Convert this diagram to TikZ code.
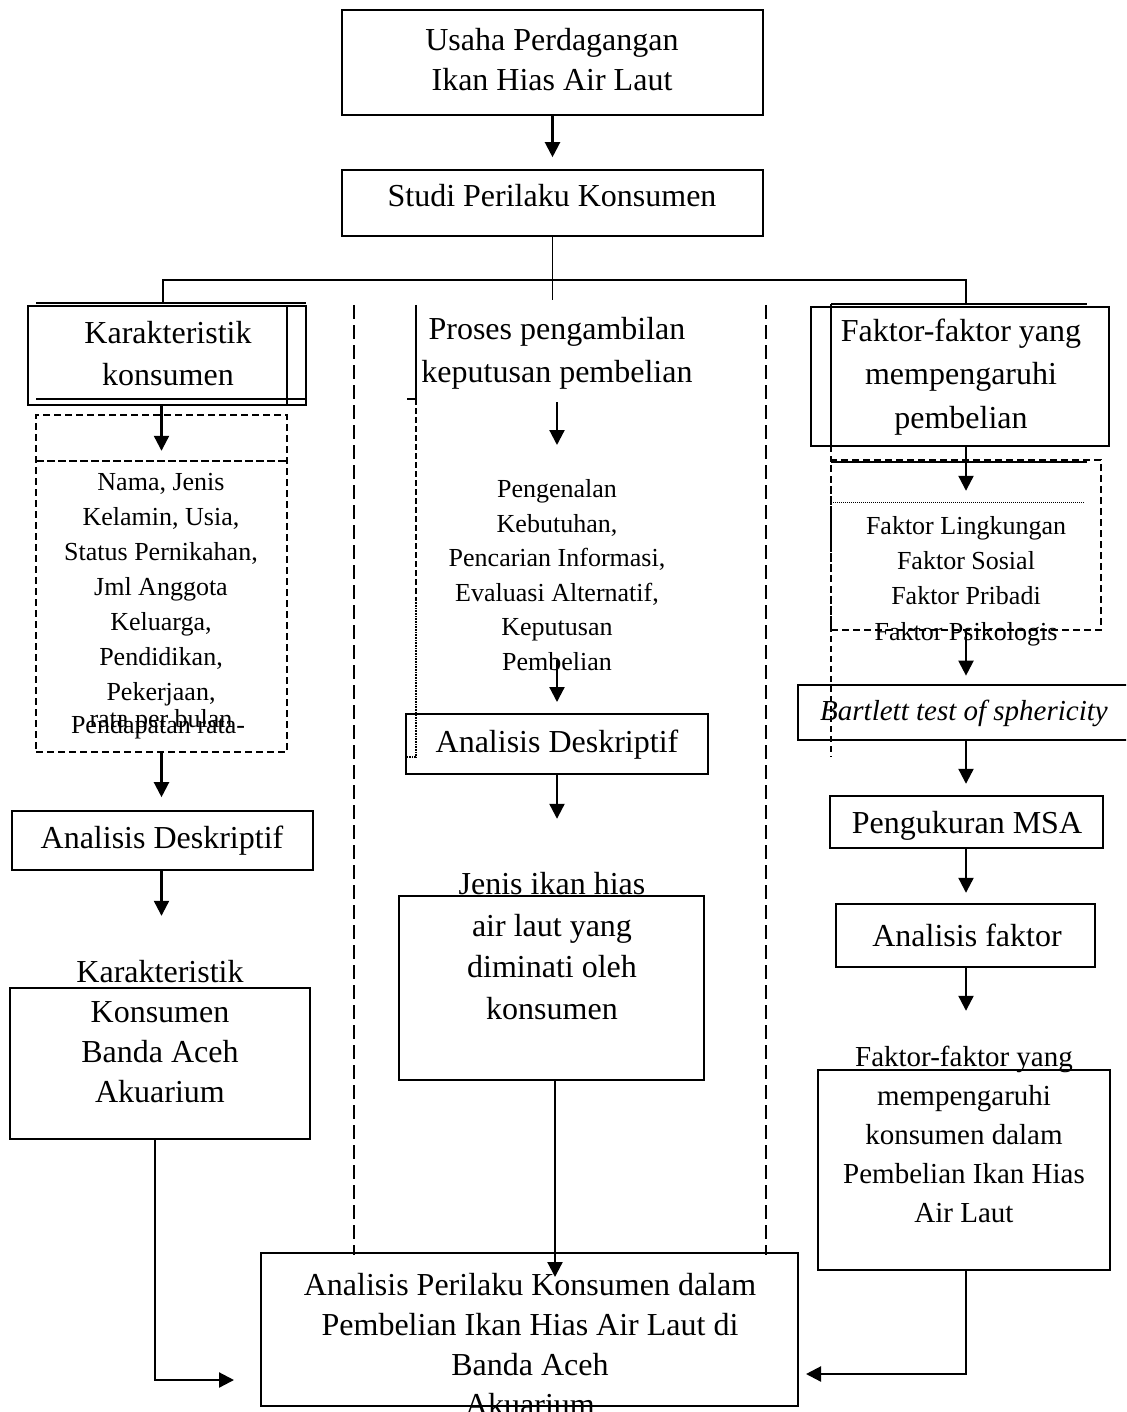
\documentclass[tikz,border=0pt]{standalone}
\usepackage{fontspec}
\setmainfont{Liberation Serif}
\usetikzlibrary{arrows.meta}
\begin{document}
\begin{tikzpicture}[x=1pt,y=-1pt,
  box/.style={draw, line width=1.6pt, inner sep=0pt},
  dbox/.style={draw, line width=1.3pt, dash pattern=on 7pt off 4pt, inner sep=0pt},
  arr/.style={line width=2.2pt, -{Triangle[length=15pt,width=15pt]}},
  ln/.style={line width=1.6pt},
  sepline/.style={line width=1.3pt, dash pattern=on 14pt off 6pt},
  big/.style={font=\fontsize{32}{40}\selectfont, align=center, inner sep=0pt},
  mid/.style={font=\fontsize{29}{39}\selectfont, align=center, inner sep=0pt},
  sml/.style={font=\fontsize{26}{35}\selectfont, align=center, inner sep=0pt},
]
\clip (0,0) rectangle (1126,1412);
\fill[white] (0,0) rectangle (1126,1412);

% ---------- top ----------
\node[box, minimum width=421, minimum height=105] (usaha) at (552.5,62.5) {};
\node[big, font=\fontsize{32}{40}\selectfont] (usahaT) at (552,60) {Usaha Perdagangan\\Ikan Hias Air Laut};
\node[box, minimum width=421, minimum height=66] (studi) at (552.5,203) {};
\node[big] (studiT) at (552,196) {Studi Perilaku Konsumen};
\draw[arr, shorten >=12pt] (usaha.south) -- (studi.north);

\coordinate (hbar) at (552.5,280);
\coordinate (brC) at (552.5,300);
\coordinate (brL) at (163,303);
\coordinate (brR) at (966,303);
\draw[ln] (studi.south) -- (brC);
\draw[ln] (brL) -- (brL |- hbar) -- (brR |- hbar) -- (brR);

% ---------- column separators ----------
\draw[sepline] (354,305) -- (354,1255);
\draw[sepline] (766,305) -- (766,1255);

% ---------- left column ----------
\node[box, minimum width=278, minimum height=99] (kar) at (167,355.5) {};
\draw[ln] (36,303) -- (306,303);
\draw[ln] (36,399) -- (306,399);
\draw[ln] (287,306) -- (287,405);
\node[big, font=\fontsize{32}{42}\selectfont] (karT) at (168,354) {Karakteristik\\konsumen};

\node[dbox, minimum width=251, minimum height=337] (dl) at (161.5,583.5) {};
\draw[line width=2pt, dash pattern=on 8pt off 3pt] (36,461) -- (287,461);
\draw[arr] (kar.south -| dl.center) -- ++(0,45);
\node[sml] (dlT) at (161,590) {Nama, Jenis\\Kelamin, Usia,\\Status Pernikahan,\\Jml Anggota\\Keluarga,\\Pendidikan,\\Pekerjaan,};
\node[sml] (dlT2) at (161,721) {rata per bulan};
\node[sml] (dlT3) at (158,727) {Pendapatan rata-};

\node[box, minimum width=301, minimum height=59] (adL) at (162.5,840.5) {};
\node[big] (adLT) at (162,841) {Analisis Deskriptif};
\draw[arr, shorten >=13pt] (dl.south) -- (dl.south |- adL.north);
\draw[arr] (adL.south -| dl.center) -- ++(0,45);

\node[box, minimum width=300, minimum height=151] (kk) at (160,1063.5) {};
\node[big] (kkT) at (160,1032) {Karakteristik\\Konsumen\\Banda Aceh\\Akuarium};

% ---------- middle column ----------
\node[big, font=\fontsize{32}{43}\selectfont] (pros) at (557,353) {Proses pengambilan\\keputusan pembelian};
\draw[ln] (416,305) -- (416,399) -- (407,399);
\draw[line width=1.5pt, dash pattern=on 6pt off 3pt] (416,399) -- (416,600);
\draw[line width=1.5pt, dash pattern=on 1pt off 0.6pt] (416,600) -- (416,757) -- (406,757);
\coordinate (prosOut) at (557,402);
\draw[arr] (prosOut) -- ++(0,43);
\node[sml, font=\fontsize{26}{34.5}\selectfont] (procT) at (557,575) {Pengenalan\\Kebutuhan,\\Pencarian Informasi,\\Evaluasi Alternatif,\\Keputusan\\Pembelian};
\node[box, minimum width=302, minimum height=60] (adM) at (557,744) {};
\node[big] (adMT) at (557,745) {Analisis Deskriptif};
\coordinate (procOut) at (557,660);
\draw[arr] (procOut) -- ++(0,42);
\draw[arr] (adM.south) -- ++(0,44);

\node[box, minimum width=305, minimum height=184] (jenis) at (551.5,988) {};
\node[big, font=\fontsize{32}{41.7}\selectfont] (jenisT) at (552,946) {Jenis ikan hias\\air laut yang\\diminati oleh\\konsumen};

% ---------- right column ----------
\node[box, minimum width=298, minimum height=139] (fak) at (960,376.5) {};
\draw[ln] (831,304) -- (1087,304);
\draw[ln] (831,304) -- (831,446);
\draw[line width=1.3pt, dash pattern=on 6pt off 4pt] (831,446) -- (831,757);
\node[big, font=\fontsize{32}{43.5}\selectfont] (fakT) at (961,377) {Faktor-faktor yang\\mempengaruhi\\pembelian};

\node[dbox, minimum width=270, minimum height=170] (dr) at (966,545) {};
\draw[ln] (831,462) -- (1087,462);
\draw[line width=1pt, dash pattern=on 1pt off 1pt] (831,502) -- (1085,502);
\draw[arr] (fak.south -| dr.center) -- ++(0,44);
\node[sml, font=\fontsize{26}{35.3}\selectfont] (drT) at (966,581) {Faktor Lingkungan\\Faktor Sosial\\Faktor Pribadi\\Faktor Psikologis};
\draw[arr] (dr.south) -- ++(0,45);

\node[box, minimum width=337, minimum height=55] (bart) at (966.5,712.5) {};
\node[mid] (bartT) at (964,713) {\itshape Bartlett test of sphericity};
\node[box, minimum width=273, minimum height=52] (msa) at (966.5,822) {};
\node[big] (msaT) at (967,826) {Pengukuran MSA};
\node[box, minimum width=259, minimum height=63] (af) at (965.5,935.5) {};
\node[big] (afT) at (967,935) {Analisis faktor};
\draw[arr] (bart.south -| dr.center) -- ++(0,43);
\draw[arr] (msa.south -| dr.center) -- ++(0,44);
\draw[arr] (af.south -| dr.center) -- ++(0,43);

\node[box, minimum width=292, minimum height=200] (fk) at (964,1170) {};
\node[mid] (fkT) at (964,1134) {Faktor-faktor yang\\mempengaruhi\\konsumen dalam\\Pembelian Ikan Hias\\Air Laut};

% ---------- bottom ----------
\node[box, minimum width=537, minimum height=153] (bot) at (529.5,1329.5) {};
\node[big] (botT) at (530,1345) {Analisis Perilaku Konsumen dalam\\Pembelian Ikan Hias Air Laut di\\Banda Aceh\\Akuarium};

\coordinate (kkOut) at (155,1139);
\coordinate (inL) at (234,1380);
\draw[arr] (kkOut) |- (inL);
\coordinate (jOut) at (555,1080);
\coordinate (jIn) at (555,1277);
\draw[arr] (jOut) -- (jIn);
\coordinate (fkOut) at (966,1270);
\coordinate (inR) at (806,1374);
\draw[arr] (fkOut) |- (inR);
\end{tikzpicture}
\end{document}
